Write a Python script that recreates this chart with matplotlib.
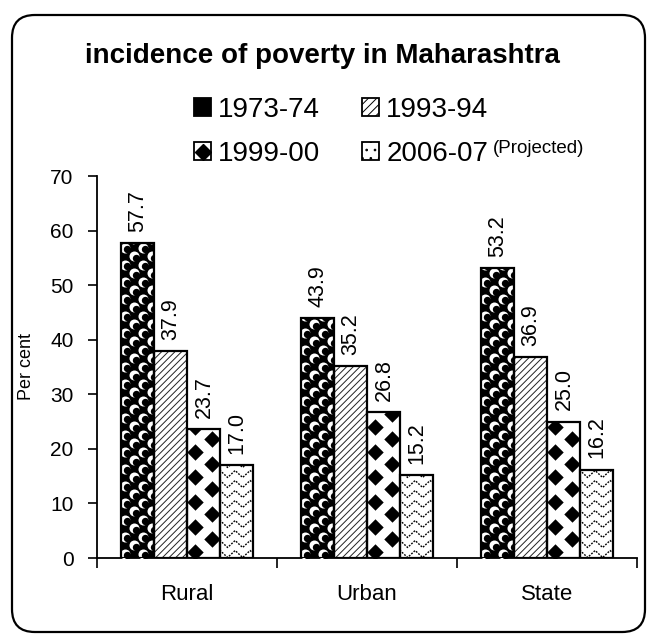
import numpy as np
import matplotlib.pyplot as plt
from matplotlib.patches import FancyBboxPatch, Patch
from matplotlib.lines import Line2D

plt.rcParams['font.family'] = ['Liberation Sans', 'DejaVu Sans']
plt.rcParams['hatch.linewidth'] = 0.7

categories = ['Rural', 'Urban', 'State']
periods = ['1973-74', '1993-94', '1999-00', '2006-07']
values = {
    '1973-74': [57.7, 43.9, 53.2],
    '1993-94': [37.9, 35.2, 36.9],
    '1999-00': [23.7, 26.8, 25.0],
    '2006-07': [17.0, 15.2, 16.2],
}
yticks = [0, 10, 20, 30, 40, 50, 60, 70]

W, H = 652, 637
fig = plt.figure(figsize=(W / 100, H / 100), dpi=100)
ax_rect = [97 / W, 1 - 558 / H, 540 / W, 382 / H]
ax = fig.add_axes(ax_rect)
ax.set_xlim(-0.5, 2.5)
ax.set_ylim(0, 70)

# pixels per data unit, used to size the fill textures
PX = W * ax_rect[2] / 3.0
PY = H * ax_rect[3] / 70.0

# rounded frame around the whole chart
frame = FancyBboxPatch((12 / W, 1 - 632 / H), 633 / W, 617 / H, transform=fig.transFigure,
                       boxstyle='round,pad=0,rounding_size=0.035', fill=False,
                       edgecolor='black', linewidth=1.6, mutation_aspect=W / H)
fig.add_artist(frame)

x = np.arange(len(categories))
w = 0.184
offsets = (np.arange(4) - 1.5) * w


def lattice(bar, step_x, step_y):
    # staggered grid of points covering a bar (steps in pixels)
    x0, y0 = bar.get_x(), bar.get_y()
    bw, bh = bar.get_width(), bar.get_height()
    sx, sy = step_x / PX, step_y / PY
    pts = []
    row = 0
    yy = y0 + sy / 2
    while yy < y0 + bh + sy:
        xx = x0 + (sx / 4 if row % 2 == 0 else -sx / 4)
        while xx < x0 + bw + sx:
            pts.append((xx, yy))
            xx += sx
        yy += sy
        row += 1
    return np.array(pts)


def balls(bar):
    pts = lattice(bar, 18, 8.5)
    s1 = ax.scatter(pts[:, 0], pts[:, 1], s=52, color='white', linewidths=0, zorder=3)
    s2 = ax.scatter(pts[:, 0] + 1.5 / PX, pts[:, 1] - 1.5 / PY, s=28, color='black',
                    linewidths=0, zorder=3)
    s1.set_clip_path(bar)
    s2.set_clip_path(bar)


def diamonds(bar):
    pts = lattice(bar, bar.get_width() * PX, 12.5)
    sc = ax.scatter(pts[:, 0], pts[:, 1], marker='D', s=70, color='black',
                    linewidths=0, zorder=3)
    sc.set_clip_path(bar)


def zigzag(bar):
    x0, y0 = bar.get_x(), bar.get_y()
    bw, bh = bar.get_width(), bar.get_height()
    half = 7.5 / PX
    amp = 3.5 / PY
    xs = np.arange(x0 - half, x0 + bw + 2 * half, half)
    yy = y0 + 4 / PY
    while yy < y0 + bh + amp:
        ys = yy + amp * np.where(np.arange(len(xs)) % 2 == 0, -1, 1)
        ln, = ax.plot(xs, ys, color='black', lw=1.0, linestyle=(0, (1.3, 1.0)), zorder=3)
        ln.set_clip_path(bar)
        yy += 10 / PY


faces = {'1973-74': 'black', '1993-94': 'white', '1999-00': 'white', '2006-07': 'white'}

for i, p in enumerate(periods):
    hatch = '/////' if p == '1993-94' else None
    bars = ax.bar(x + offsets[i], values[p], w, facecolor=faces[p], edgecolor='#222222',
                  hatch=hatch, linewidth=0, zorder=2)
    ax.bar(x + offsets[i], values[p], w, fill=False, edgecolor='black',
           linewidth=1.6, zorder=4)
    for b in bars:
        if p == '1973-74':
            balls(b)
        elif p == '1999-00':
            diamonds(b)
        elif p == '2006-07':
            zigzag(b)
    for xi, v in zip(x + offsets[i], values[p]):
        ax.annotate(f'{v:.1f}', xy=(xi, v), xytext=(0.5, 8), textcoords='offset points',
                    rotation=90, ha='center', va='bottom', fontsize=15.5)

ax.set_yticks(yticks)
ax.tick_params(axis='y', direction='out', length=6.5, width=1.2, labelsize=15, pad=10.5)
ax.set_xticks([-0.5, 0.5, 1.5, 2.5])
ax.set_xticklabels([])
ax.tick_params(axis='x', which='major', direction='out', length=7, width=1.2)
ax.set_xticks(x, minor=True)
ax.set_xticklabels(categories, minor=True, fontsize=16)
ax.tick_params(axis='x', which='minor', length=0, pad=19)
ax.spines['top'].set_visible(False)
ax.spines['right'].set_visible(False)
ax.spines['left'].set_linewidth(1.3)
ax.spines['bottom'].set_linewidth(1.3)
ax.set_ylabel('Per cent', fontsize=13)
ax.yaxis.set_label_coords((35 - 97) / 540, 0.5)

fig.text(322 / W, 1 - 63 / H, 'incidence of poverty in Maharashtra', ha='center',
         va='baseline', fontsize=20, fontweight='bold')

# legend handles, filled row by row across two columns
box = dict(edgecolor='black', linewidth=1.3)
handles = {
    '1973-74': Patch(facecolor='black', hatch='oo', **box),
    '1993-94': Patch(facecolor='white', hatch='////', **box),
    '1999-00': (Patch(facecolor='white', **box),
                Line2D([], [], marker='D', color='black', linestyle='none', markersize=8)),
    '2006-07': Patch(facecolor='white', hatch='..', **box),
}
order = ['1973-74', '1999-00', '1993-94', '2006-07']
leg = fig.legend([handles[p] for p in order], order, ncol=2, loc='center left',
                 bbox_to_anchor=(194 / W, 1 - 132 / H), frameon=False, fontsize=20,
                 handlelength=0.62, handleheight=0.62, handletextpad=0.25,
                 columnspacing=1.5, labelspacing=0.65, borderpad=0, borderaxespad=0)

# note beside the last legend entry
fig.canvas.draw()
bb = leg.get_texts()[3].get_window_extent().transformed(fig.transFigure.inverted())
fig.text(bb.x1 + 5 / W, bb.y1 + 1 / H, '(Projected)', ha='left', va='top', fontsize=13.5)

fig.savefig('out.png', dpi=100)
